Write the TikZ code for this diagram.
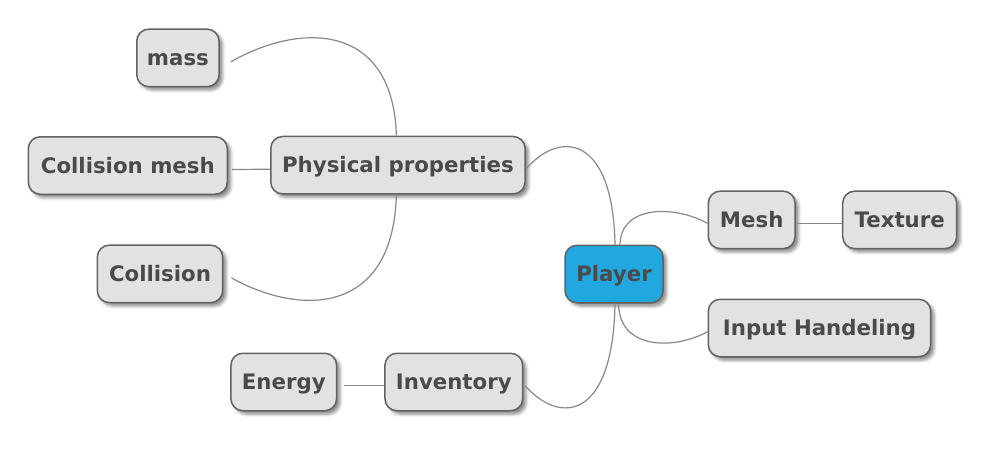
\documentclass[tikz,border=0pt]{standalone}
\usepackage{fontspec}
\setmainfont{DejaVu Sans}
\usetikzlibrary{shadows.blur}
\definecolor{boxfill}{HTML}{E2E2E2}
\definecolor{boxline}{HTML}{626262}
\definecolor{txtcol}{HTML}{4A4A4A}
\definecolor{linkcol}{HTML}{888888}
\definecolor{rootfill}{HTML}{20A8DF}
\tikzset{
  mmbox/.style={draw=boxline, line width=1.5pt, fill=boxfill, rounded corners=12pt,
    inner sep=0pt, minimum height=57.5pt, text=txtcol,
    font=\bfseries\fontsize{21.3pt}{24pt}\selectfont,
    text height=15.5pt, text depth=0pt,
    blur shadow={shadow xshift=3.5pt, shadow yshift=-3.5pt, shadow blur radius=3pt, shadow opacity=45}},
  rootbox/.style={mmbox, fill=rootfill},
  link/.style={draw=linkcol, line width=1.2pt}
}
\begin{document}
\begin{tikzpicture}[x=1pt,y=-1pt]
\useasboundingbox (0,0) rectangle (1000,450);
\node[mmbox, minimum width=82.3pt]  (mass) at (177.9,57.9) {mass};
\node[mmbox, minimum width=199pt]   (CM)   at (127.8,165.5) {Collision mesh};
\node[mmbox, minimum width=254.3pt] (PP)   at (397.9,165.2) {Physical properties};
\node[mmbox, minimum width=125.4pt] (Col)  at (160,273.9) {Collision};
\node[rootbox, minimum width=98pt]  (P)    at (614,274) {Player};
\node[mmbox, minimum width=86.7pt]  (Mesh) at (751.7,219.9) {Mesh};
\node[mmbox, minimum width=114pt]   (Tex)  at (899.7,219.9) {Texture};
\node[mmbox, minimum width=222.4pt] (Inp)  at (819.5,328) {Input Handeling};
\node[mmbox, minimum width=105.7pt] (En)   at (283.8,382) {Energy};
\node[mmbox, minimum width=137.7pt] (Inv)  at (453.8,382) {Inventory};
% connectors
\draw[link] ([shift={(11,4)}]mass.east) .. controls (300,22) and (393,22) .. ([xshift=-1.5pt]PP.north);
\draw[link] ([shift={(4,4)}]CM.east) -- ([shift={(0,4)}]PP.west);
\draw[link] ([shift={(8,4)}]Col.east) .. controls (300,316) and (393,316) .. ([xshift=-1.5pt]PP.south);
\draw[link] ([shift={(1,3)}]PP.east) .. controls (560,130) and (613,135) .. ([xshift=1pt]P.north);
\draw[link] ([shift={(2,4)}]Inv.east) .. controls (560,425) and (613,420) .. ([xshift=1pt]P.south);
\draw[link] ([shift={(0,3.4)}]Mesh.west) .. controls (674,205) and (621,205) .. ([xshift=6pt]P.north);
\draw[link] ([shift={(0,3.7)}]Inp.west) .. controls (674,350) and (619,350) .. ([xshift=4.5pt]P.south);
\draw[link] ([shift={(1,3.4)}]Mesh.east) -- ([shift={(0,3.4)}]Tex.west);
\draw[link] ([shift={(7,3.7)}]En.east) -- ([shift={(0,3.7)}]Inv.west);
\end{tikzpicture}
\end{document}
